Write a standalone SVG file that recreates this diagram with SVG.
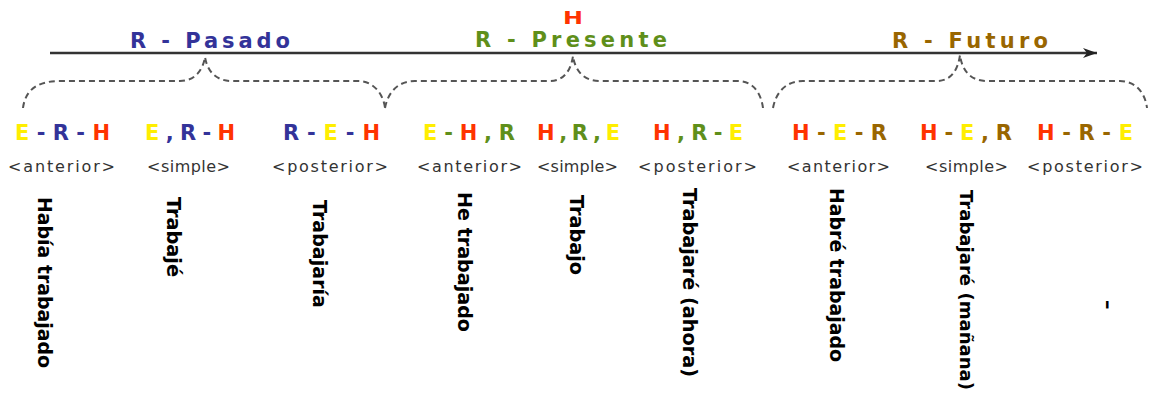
<svg xmlns="http://www.w3.org/2000/svg" width="1149" height="398" viewBox="0 0 1149 398">
<style>
.title{font-family:"DejaVu Sans","Liberation Sans",sans-serif;font-weight:bold;font-size:21px}
.hmark{font-family:"DejaVu Sans","Liberation Sans",sans-serif;font-weight:bold;font-size:18px}
.f{font-family:"DejaVu Sans","Liberation Sans",sans-serif;font-weight:bold;font-size:21px}
.sub{font-family:"DejaVu Sans","Liberation Sans",sans-serif;font-size:16px;fill:#333}
.v{font-family:"DejaVu Sans","Liberation Sans",sans-serif;font-weight:bold;font-size:19px;fill:#000}
.E{fill:#ffee00}.H{fill:#ff3300}.P{fill:#333399}.G{fill:#5f8f1a}.B{fill:#996600}
.brace{fill:none;stroke:#555;stroke-width:2;stroke-dasharray:6 4}
</style>
<defs>
<marker id="ah" markerUnits="userSpaceOnUse" markerWidth="16" markerHeight="12" refX="14" refY="6" orient="auto">
<path d="M0,1 L14,6 L0,11 L4,6 Z" fill="#222"/>
</marker>
</defs>
<rect width="1149" height="398" fill="#fff"/>
<g id="connectors">
<line x1="50" y1="53" x2="1097" y2="53" stroke="#333" stroke-width="2.5" marker-end="url(#ah)"/>
<path class="brace" d="M23,108 C25,92 35,81 60,81 L180,81 C195,81 203,70 205,57 C207,70 215,81 232,81 L358,81 C372,81 383,92 385,108"/>
<path class="brace" d="M385,108 C388,92 398,81 415,81 L550,81 C564,81 571,70 573,56 C575,70 583,81 600,81 L738,81 C752,81 761,92 763,108"/>
<path class="brace" d="M773,108 C776,92 786,81 803,81 L937,81 C951,81 958,70 960,55 C962,70 970,81 987,81 L1120,81 C1135,81 1145,92 1147,108"/>
</g>
<g id="title-pasado"><text class="title P" x="130" y="48" textLength="160" lengthAdjust="spacing">R - Pasado</text></g>
<g id="title-presente"><text class="hmark H" x="563" y="24" textLength="20" lengthAdjust="spacingAndGlyphs">H</text><text class="title G" x="475" y="47" textLength="192" lengthAdjust="spacing">R - Presente</text></g>
<g id="title-futuro"><text class="title B" x="892" y="48" textLength="156" lengthAdjust="spacing">R - Futuro</text></g>

<g id="pasado-anterior">
<text class="f" x="15" y="140" textLength="95" lengthAdjust="spacing"><tspan class="E">E</tspan><tspan class="P">-R-</tspan><tspan class="H">H</tspan></text>
<text class="sub" x="8" y="172" textLength="107" lengthAdjust="spacing">&lt;anterior&gt;</text>
<text class="v" transform="translate(38,197) rotate(90)" textLength="171" lengthAdjust="spacingAndGlyphs">Había trabajado</text>
</g>
<g id="pasado-simple">
<text class="f" x="145" y="140" textLength="90" lengthAdjust="spacing"><tspan class="E">E</tspan><tspan class="P">,R-</tspan><tspan class="H">H</tspan></text>
<text class="sub" x="147" y="172" textLength="83" lengthAdjust="spacing">&lt;simple&gt;</text>
<text class="v" transform="translate(167,197) rotate(90)" textLength="80" lengthAdjust="spacingAndGlyphs">Trabajé</text>
</g>
<g id="pasado-posterior">
<text class="f" x="283" y="140" textLength="97" lengthAdjust="spacing"><tspan class="P">R-</tspan><tspan class="E">E</tspan><tspan class="P">-</tspan><tspan class="H">H</tspan></text>
<text class="sub" x="272" y="172" textLength="116" lengthAdjust="spacing">&lt;posterior&gt;</text>
<text class="v" transform="translate(313,200) rotate(90)" textLength="108" lengthAdjust="spacingAndGlyphs">Trabajaría</text>
</g>
<g id="presente-anterior">
<text class="f" x="423" y="140" textLength="92" lengthAdjust="spacing"><tspan class="E">E</tspan><tspan class="G">-</tspan><tspan class="H">H</tspan><tspan class="G">,R</tspan></text>
<text class="sub" x="417" y="172" textLength="105" lengthAdjust="spacing">&lt;anterior&gt;</text>
<text class="v" transform="translate(458,192) rotate(90)" textLength="140" lengthAdjust="spacingAndGlyphs">He trabajado</text>
</g>
<g id="presente-simple">
<text class="f" x="537" y="140" textLength="83" lengthAdjust="spacing"><tspan class="H">H</tspan><tspan class="G">,R,</tspan><tspan class="E">E</tspan></text>
<text class="sub" x="537" y="172" textLength="81" lengthAdjust="spacing">&lt;simple&gt;</text>
<text class="v" transform="translate(570,195) rotate(90)" textLength="80" lengthAdjust="spacingAndGlyphs">Trabajo</text>
</g>
<g id="presente-posterior">
<text class="f" x="653" y="140" textLength="90" lengthAdjust="spacing"><tspan class="H">H</tspan><tspan class="G">,R-</tspan><tspan class="E">E</tspan></text>
<text class="sub" x="638" y="172" textLength="119" lengthAdjust="spacing">&lt;posterior&gt;</text>
<text class="v" transform="translate(683,188) rotate(90)" textLength="189" lengthAdjust="spacingAndGlyphs">Trabajaré (ahora)</text>
</g>
<g id="futuro-anterior">
<text class="f" x="792" y="140" textLength="95" lengthAdjust="spacing"><tspan class="H">H</tspan><tspan class="B">-</tspan><tspan class="E">E</tspan><tspan class="B">-R</tspan></text>
<text class="sub" x="787" y="172" textLength="103" lengthAdjust="spacing">&lt;anterior&gt;</text>
<text class="v" transform="translate(830,188) rotate(90)" textLength="174" lengthAdjust="spacingAndGlyphs">Habré trabajado</text>
</g>
<g id="futuro-simple">
<text class="f" x="920" y="140" textLength="92" lengthAdjust="spacing"><tspan class="H">H</tspan><tspan class="B">-</tspan><tspan class="E">E</tspan><tspan class="B">,R</tspan></text>
<text class="sub" x="925" y="172" textLength="83" lengthAdjust="spacing">&lt;simple&gt;</text>
<text class="v" style="font-size:18px" transform="translate(960,190) rotate(90)" textLength="200" lengthAdjust="spacingAndGlyphs">Trabajaré (mañana)</text>
</g>
<g id="futuro-posterior">
<text class="f" x="1037" y="140" textLength="96" lengthAdjust="spacing"><tspan class="H">H</tspan><tspan class="B">-R-</tspan><tspan class="E">E</tspan></text>
<text class="sub" x="1027" y="172" textLength="116" lengthAdjust="spacing">&lt;posterior&gt;</text>
<text class="v" transform="translate(1102,300) rotate(90)">–</text>
</g>
</svg>
